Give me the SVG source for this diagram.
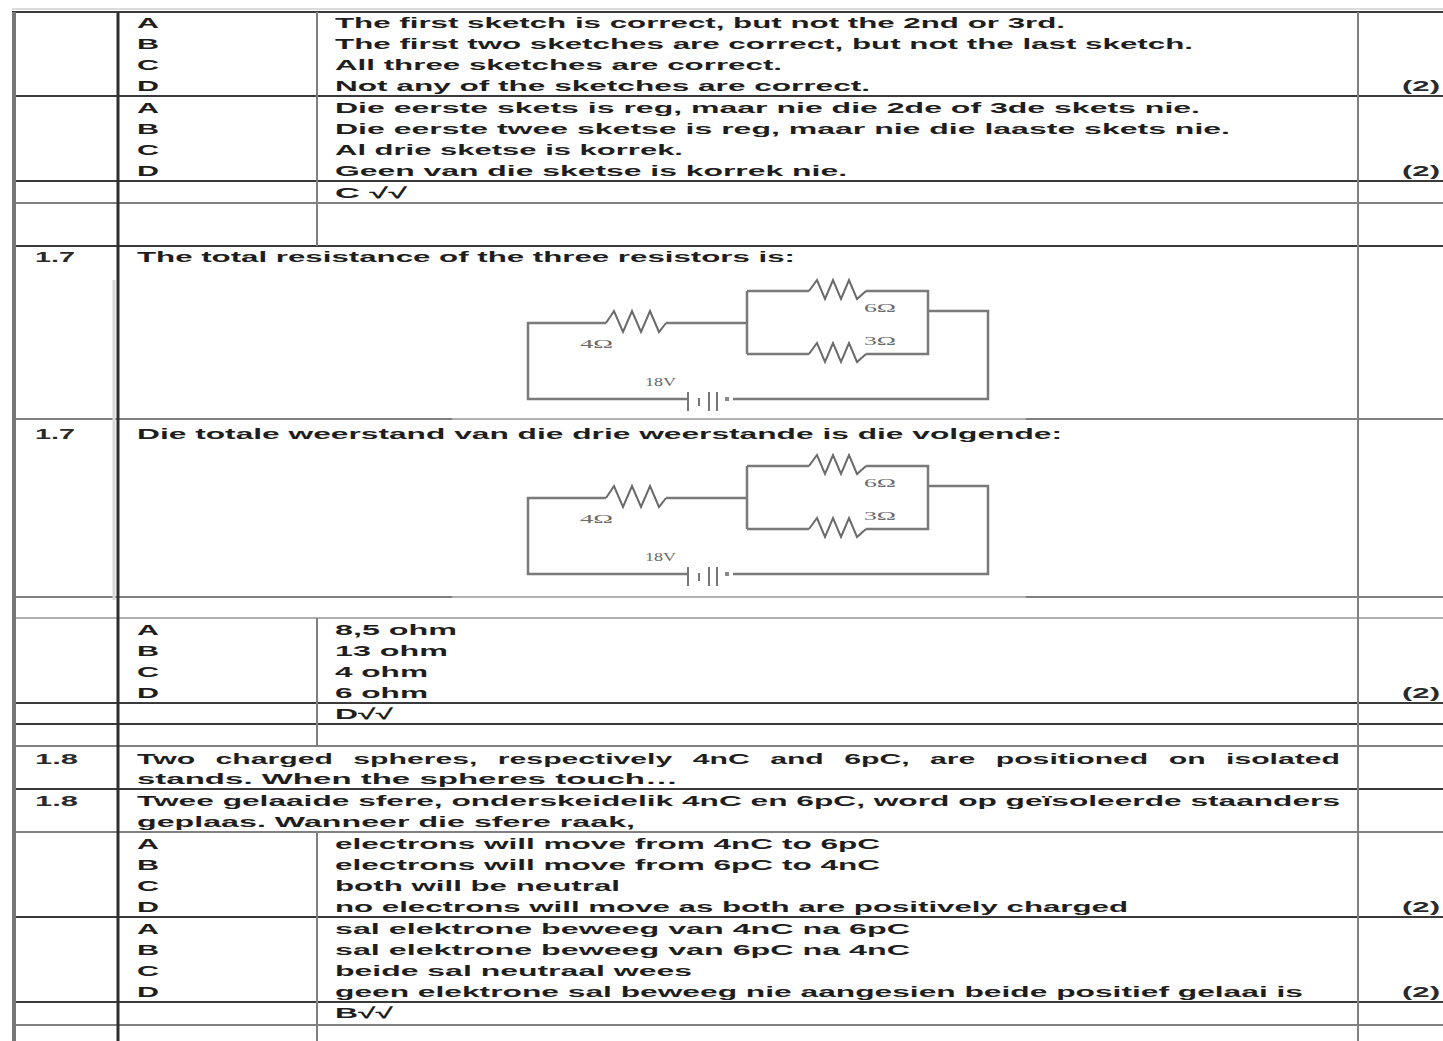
<svg xmlns="http://www.w3.org/2000/svg" width="1443" height="1041" viewBox="0 0 1443 1041">
<style>
.t{font-family:"Liberation Sans",Arial,sans-serif;font-size:15px;font-weight:bold;fill:#1e1e1e}
.m{font-family:"Liberation Sans",Arial,sans-serif;font-size:15px;font-weight:bold;fill:#2a2a2a}
.lbl{font-family:"Liberation Serif","Times New Roman",serif;font-size:12px;fill:#6a6a6a}
.dk{stroke:#3a3a3a;stroke-width:2}
.gy{stroke:#808080;stroke-width:2}
.lt{stroke:#b0b0b0;stroke-width:2}
.w{fill:none;stroke:#7a7a7a;stroke-width:2.5;stroke-linejoin:miter}
.rz{fill:none;stroke:#6a6a6a;stroke-width:2}
</style>
<defs>
<g id="circuit">
<path class="w" d="M606,323 H528 V399 H688 M733,399 H988 V311 H928 M666,323 H747 M747,291 V354 M747,291 H809 M866,291 H928 V354 H866 M809,354 H747"/>
<path class="rz" d="M606,323 L614,311 L623,332 L632,311 L641,332 L650,311 L659,332 L666,323"/>
<path class="rz" d="M809,291 L817,280 L825,299 L833,280 L841,299 L849,280 L857,299 L866,291"/>
<path class="rz" d="M809,354 L817,343 L825,362 L833,343 L841,362 L849,343 L857,362 L866,354"/>
<path stroke="#777" stroke-width="2" d="M688,392 V411 M699,398 V406 M709,392 V411 M717,392 V411"/>
<rect x="725" y="397" width="4" height="4" fill="#888"/>
<text class="lbl" x="580" y="348" textLength="33" lengthAdjust="spacingAndGlyphs">4Ω</text>
<text class="lbl" x="864" y="312" textLength="32" lengthAdjust="spacingAndGlyphs">6Ω</text>
<text class="lbl" x="864" y="345" textLength="32" lengthAdjust="spacingAndGlyphs">3Ω</text>
<text class="lbl" x="645" y="386" textLength="31" lengthAdjust="spacingAndGlyphs">18V</text>
</g>
</defs>
<rect width="1443" height="1041" fill="#fff"/>
<g id="table-lines">
<line x1="12" y1="9" x2="1443" y2="9" stroke="#dcdcdc" stroke-width="2"/>
<line class="dk" x1="12" y1="12" x2="1443" y2="12"/>
<line class="dk" x1="12" y1="96" x2="1443" y2="96"/>
<line class="dk" x1="12" y1="181" x2="1443" y2="181"/>
<line class="gy" x1="12" y1="203" x2="1443" y2="203"/>
<line class="dk" x1="12" y1="246" x2="1443" y2="246"/>
<line class="gy" x1="12" y1="419" x2="452" y2="419" stroke-width="3"/>
<line class="lt" x1="452" y1="419" x2="1026" y2="419" stroke-width="3"/>
<line class="gy" x1="1026" y1="419" x2="1443" y2="419" stroke-width="3"/>
<line class="gy" x1="12" y1="597" x2="452" y2="597" stroke-width="3"/>
<line class="lt" x1="452" y1="597" x2="1026" y2="597" stroke-width="3"/>
<line class="gy" x1="1026" y1="597" x2="1443" y2="597" stroke-width="3"/>
<line class="lt" x1="12" y1="618" x2="1443" y2="618" stroke-width="3"/>
<line class="dk" x1="12" y1="703" x2="1443" y2="703"/>
<line class="dk" x1="12" y1="724" x2="1443" y2="724"/>
<line class="gy" x1="12" y1="746" x2="1443" y2="746"/>
<line class="dk" x1="12" y1="789" x2="1443" y2="789"/>
<line class="gy" x1="12" y1="832" x2="1443" y2="832" stroke-width="3"/>
<line class="dk" x1="12" y1="917" x2="1443" y2="917"/>
<line class="dk" x1="12" y1="1002" x2="1443" y2="1002"/>
<line class="gy" x1="12" y1="1025" x2="1443" y2="1025"/>
<line x1="14" y1="12" x2="14" y2="1041" stroke="#777" stroke-width="4"/>
<line x1="114" y1="280" x2="114" y2="600" stroke="#d8d8d8" stroke-width="3"/>
<line x1="118" y1="12" x2="118" y2="1041" stroke="#2e2e2e" stroke-width="3"/>
<line class="gy" x1="317" y1="12" x2="317" y2="246"/>
<line class="gy" x1="317" y1="618" x2="317" y2="746"/>
<line class="gy" x1="317" y1="832" x2="317" y2="1041"/>
<line class="gy" x1="1358" y1="12" x2="1358" y2="1041"/>
</g>
<g id="q16-options-en">
<text class="t" x="137" y="28" textLength="22" lengthAdjust="spacingAndGlyphs">A</text>
<text class="t" x="137" y="49" textLength="22" lengthAdjust="spacingAndGlyphs">B</text>
<text class="t" x="137" y="70" textLength="22" lengthAdjust="spacingAndGlyphs">C</text>
<text class="t" x="137" y="91" textLength="22" lengthAdjust="spacingAndGlyphs">D</text>
<text class="t" x="335" y="28" textLength="730" lengthAdjust="spacingAndGlyphs">The first sketch is correct, but not the 2nd or 3rd.</text>
<text class="t" x="335" y="49" textLength="858" lengthAdjust="spacingAndGlyphs">The first two sketches are correct, but not the last sketch.</text>
<text class="t" x="335" y="70" textLength="447" lengthAdjust="spacingAndGlyphs">All three sketches are correct.</text>
<text class="t" x="335" y="91" textLength="535" lengthAdjust="spacingAndGlyphs">Not any of the sketches are correct.</text>
<text class="m" x="1402" y="91" textLength="38" lengthAdjust="spacingAndGlyphs">(2)</text>
</g>
<g id="q16-options-af">
<text class="t" x="137" y="113" textLength="22" lengthAdjust="spacingAndGlyphs">A</text>
<text class="t" x="137" y="134" textLength="22" lengthAdjust="spacingAndGlyphs">B</text>
<text class="t" x="137" y="155" textLength="22" lengthAdjust="spacingAndGlyphs">C</text>
<text class="t" x="137" y="176" textLength="22" lengthAdjust="spacingAndGlyphs">D</text>
<text class="t" x="335" y="113" textLength="865" lengthAdjust="spacingAndGlyphs">Die eerste skets is reg, maar nie die 2de of 3de skets nie.</text>
<text class="t" x="335" y="134" textLength="895" lengthAdjust="spacingAndGlyphs">Die eerste twee sketse is reg, maar nie die laaste skets nie.</text>
<text class="t" x="335" y="155" textLength="348" lengthAdjust="spacingAndGlyphs">Al drie sketse is korrek.</text>
<text class="t" x="335" y="176" textLength="512" lengthAdjust="spacingAndGlyphs">Geen van die sketse is korrek nie.</text>
<text class="m" x="1402" y="176" textLength="38" lengthAdjust="spacingAndGlyphs">(2)</text>
</g>
<g id="q16-answer">
<text class="t" x="335" y="198" textLength="72" lengthAdjust="spacingAndGlyphs">C √√</text>
</g>
<g id="q17-en">
<text class="m" x="35" y="262" textLength="40" lengthAdjust="spacingAndGlyphs">1.7</text>
<text class="t" x="137" y="262" textLength="658" lengthAdjust="spacingAndGlyphs">The total resistance of the three resistors is:</text>
<use href="#circuit"/>
</g>
<g id="q17-af">
<text class="m" x="35" y="439" textLength="40" lengthAdjust="spacingAndGlyphs">1.7</text>
<text class="t" x="137" y="439" textLength="925" lengthAdjust="spacingAndGlyphs">Die totale weerstand van die drie weerstande is die volgende:</text>
<use href="#circuit" transform="translate(0,175)"/>
</g>
<g id="q17-options">
<text class="t" x="137" y="635" textLength="22" lengthAdjust="spacingAndGlyphs">A</text>
<text class="t" x="137" y="656" textLength="22" lengthAdjust="spacingAndGlyphs">B</text>
<text class="t" x="137" y="677" textLength="22" lengthAdjust="spacingAndGlyphs">C</text>
<text class="t" x="137" y="698" textLength="22" lengthAdjust="spacingAndGlyphs">D</text>
<text class="t" x="335" y="635" textLength="122" lengthAdjust="spacingAndGlyphs">8,5 ohm</text>
<text class="t" x="335" y="656" textLength="113" lengthAdjust="spacingAndGlyphs">13 ohm</text>
<text class="t" x="335" y="677" textLength="93" lengthAdjust="spacingAndGlyphs">4 ohm</text>
<text class="t" x="335" y="698" textLength="93" lengthAdjust="spacingAndGlyphs">6 ohm</text>
<text class="m" x="1402" y="698" textLength="38" lengthAdjust="spacingAndGlyphs">(2)</text>
<text class="t" x="335" y="719" textLength="58" lengthAdjust="spacingAndGlyphs">D√√</text>
</g>
<g id="q18-en">
<text class="m" x="35" y="764" textLength="43" lengthAdjust="spacingAndGlyphs">1.8</text>
<text class="t" x="137" y="764" textLength="1203" lengthAdjust="spacingAndGlyphs" word-spacing="6">Two charged spheres, respectively 4nC and 6pC, are positioned on isolated</text>
<text class="t" x="137" y="784" textLength="541" lengthAdjust="spacingAndGlyphs">stands. When the spheres touch…</text>
</g>
<g id="q18-af">
<text class="m" x="35" y="806" textLength="43" lengthAdjust="spacingAndGlyphs">1.8</text>
<text class="t" x="137" y="806" textLength="1203" lengthAdjust="spacingAndGlyphs">Twee gelaaide sfere, onderskeidelik 4nC en 6pC, word op geïsoleerde staanders</text>
<text class="t" x="137" y="827" textLength="498" lengthAdjust="spacingAndGlyphs">geplaas. Wanneer die sfere raak,</text>
</g>
<g id="q18-options-en">
<text class="t" x="137" y="849" textLength="22" lengthAdjust="spacingAndGlyphs">A</text>
<text class="t" x="137" y="870" textLength="22" lengthAdjust="spacingAndGlyphs">B</text>
<text class="t" x="137" y="891" textLength="22" lengthAdjust="spacingAndGlyphs">C</text>
<text class="t" x="137" y="912" textLength="22" lengthAdjust="spacingAndGlyphs">D</text>
<text class="t" x="335" y="849" textLength="545" lengthAdjust="spacingAndGlyphs">electrons will move from 4nC to 6pC</text>
<text class="t" x="335" y="870" textLength="545" lengthAdjust="spacingAndGlyphs">electrons will move from 6pC to 4nC</text>
<text class="t" x="335" y="891" textLength="285" lengthAdjust="spacingAndGlyphs">both will be neutral</text>
<text class="t" x="335" y="912" textLength="793" lengthAdjust="spacingAndGlyphs">no electrons will move as both are positively charged</text>
<text class="m" x="1402" y="912" textLength="38" lengthAdjust="spacingAndGlyphs">(2)</text>
</g>
<g id="q18-options-af">
<text class="t" x="137" y="934" textLength="22" lengthAdjust="spacingAndGlyphs">A</text>
<text class="t" x="137" y="955" textLength="22" lengthAdjust="spacingAndGlyphs">B</text>
<text class="t" x="137" y="976" textLength="22" lengthAdjust="spacingAndGlyphs">C</text>
<text class="t" x="137" y="997" textLength="22" lengthAdjust="spacingAndGlyphs">D</text>
<text class="t" x="335" y="934" textLength="575" lengthAdjust="spacingAndGlyphs">sal elektrone beweeg van 4nC na 6pC</text>
<text class="t" x="335" y="955" textLength="575" lengthAdjust="spacingAndGlyphs">sal elektrone beweeg van 6pC na 4nC</text>
<text class="t" x="335" y="976" textLength="357" lengthAdjust="spacingAndGlyphs">beide sal neutraal wees</text>
<text class="t" x="335" y="997" textLength="968" lengthAdjust="spacingAndGlyphs">geen elektrone sal beweeg nie aangesien beide positief gelaai is</text>
<text class="m" x="1402" y="997" textLength="38" lengthAdjust="spacingAndGlyphs">(2)</text>
</g>
<g id="q18-answer">
<text class="t" x="335" y="1018" textLength="58" lengthAdjust="spacingAndGlyphs">B√√</text>
</g>
</svg>
